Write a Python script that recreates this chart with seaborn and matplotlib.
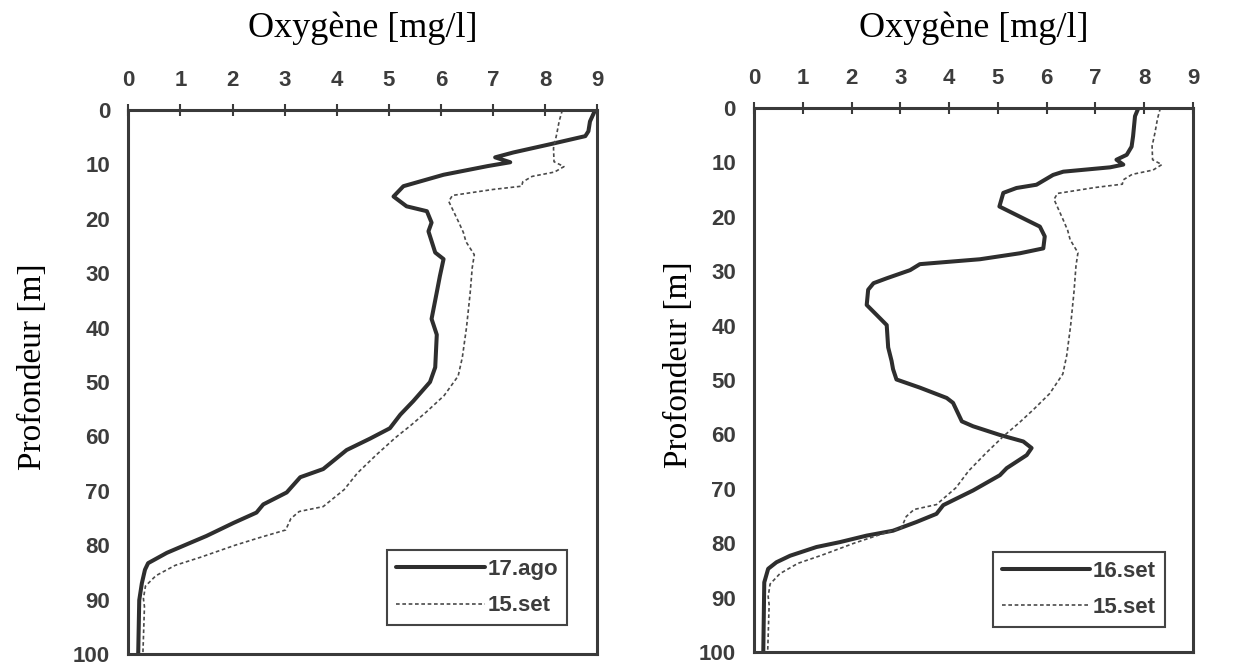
import matplotlib
matplotlib.use("Agg")
import matplotlib.pyplot as plt
import seaborn as sns
import pandas as pd

# ---------------- data ----------------
xticks_vals = [0, 1, 2, 3, 4, 5, 6, 7, 8, 9]
yticks_vals = [0, 10, 20, 30, 40, 50, 60, 70, 80, 90, 100]
title_text = "Oxygène [mg/l]"
ylabel_text = "Profondeur [m]"

depth_17ago = [0, 2.1, 3.9, 4.8, 6.3, 7.8, 8.7, 9.6, 10.3, 11.9, 14, 15.9, 17.7, 18.6,
               20.7, 22.3, 24.1, 26.2, 27.4, 30.5, 33.5, 38.4, 41.3, 47.3, 50, 53.5,
               56, 58.5, 60.4, 62.5, 66, 67.5, 70.3, 72.5, 74, 75.9, 78.3, 79.6, 81.4,
               83.3, 84.5, 87, 90.1, 100]
oxy_17ago = [8.96, 8.86, 8.83, 8.77, 8.09, 7.39, 7.04, 7.33, 6.9, 6.05, 5.28, 5.09, 5.34,
             5.73, 5.82, 5.76, 5.82, 5.89, 6.05, 5.98, 5.92, 5.82, 5.92, 5.89, 5.79, 5.47,
             5.22, 5.02, 4.64, 4.19, 3.74, 3.30, 3.04, 2.59, 2.46, 2.02, 1.50, 1.18, 0.74,
             0.38, 0.32, 0.26, 0.21, 0.19]

depth_15set = [0, 2, 4.5, 7, 9.5, 10.4, 11.4, 12.2, 13.2, 14.0, 14.6, 15.7, 16.8, 20.6,
               22.5, 24.2, 26.6, 29, 33.7, 40, 45.5, 48.9, 52.5, 55.5, 57.9, 60.2, 63.3,
               66.7, 69.8, 71.5, 72.9, 73.8, 75.1, 77.2, 78.6, 80, 82.2, 83.7, 85.6, 87.5,
               89.8, 91.3, 100]
oxy_15set = [8.33, 8.27, 8.22, 8.16, 8.17, 8.36, 8.18, 7.75, 7.57, 7.55, 7.0, 6.22, 6.15,
             6.34, 6.43, 6.48, 6.64, 6.6, 6.56, 6.49, 6.41, 6.33, 6.06, 5.72, 5.43, 5.13,
             4.77, 4.4, 4.14, 3.92, 3.74, 3.28, 3.12, 3.02, 2.52, 2.05, 1.39, 0.9, 0.53,
             0.33, 0.29, 0.31, 0.28]

depth_16set = [0, 1.5, 5.2, 7.1, 8.6, 9.5, 10.4, 10.9, 11.7, 12.3, 14.1, 14.7, 15.6, 18.1,
               20.6, 21.8, 23.6, 25.8, 26.7, 27.8, 28.7, 29.8, 31.3, 32.2, 33.4, 36.2, 38,
               39.9, 44, 46.5, 48, 49.9, 51.4, 53.3, 54.2, 57.6, 58.5, 60.1, 61.3, 62.5,
               63.8, 66.2, 67.5, 70.3, 71.8, 73, 74.6, 76.1, 77.7, 78.6, 79.8, 80.7, 82.3,
               83.5, 84.7, 87.2, 100]
oxy_16set = [7.88, 7.81, 7.77, 7.74, 7.64, 7.43, 7.57, 7.3, 6.34, 6.13, 5.79, 5.38, 5.11,
             5.03, 5.59, 5.86, 5.96, 5.93, 5.45, 4.63, 3.40, 3.20, 2.72, 2.45, 2.34, 2.31,
             2.51, 2.72, 2.75, 2.82, 2.85, 2.92, 3.40, 3.95, 4.08, 4.26, 4.49, 5.04, 5.52,
             5.69, 5.59, 5.18, 5.04, 4.49, 4.15, 3.88, 3.74, 3.33, 2.85, 2.31, 1.76, 1.28,
             0.74, 0.46, 0.29, 0.21, 0.19]

panels = [
    {"solid": ("17.ago", oxy_17ago, depth_17ago), "dotted": ("15.set", oxy_15set, depth_15set)},
    {"solid": ("16.set", oxy_16set, depth_16set), "dotted": ("15.set", oxy_15set, depth_15set)},
]

# ---------------- style ----------------
sns.set_style("white")
plt.rcParams["font.family"] = ["Liberation Sans", "DejaVu Sans"]

AX_COLOR = "#3a3a3a"
TICK_COLOR = "#3c3c3c"
SERIF = ["Liberation Serif", "DejaVu Serif"]
TICK_SIZE = 16

fig = plt.figure(figsize=(12.42, 6.66), dpi=100)
axes_rects = [[0.1033, 0.018, 0.3776, 0.8168], [0.6071, 0.021, 0.3535, 0.8168]]
ylabel_x = [-0.172, -0.136]
legend_anchor = [(0.936, 0.053), (0.936, 0.046)]

for i, (rect, pnl) in enumerate(zip(axes_rects, panels)):
    ax = fig.add_axes(rect)
    lab_s, xs, ys = pnl["solid"]
    lab_d, xd, yd = pnl["dotted"]
    df_s = pd.DataFrame({"oxy": xs, "depth": ys})
    df_d = pd.DataFrame({"oxy": xd, "depth": yd})
    sns.lineplot(data=df_s, x="oxy", y="depth", orient="y", sort=False, estimator=None,
                 color="#2e2e2e", linewidth=2.9, label=lab_s, ax=ax)
    sns.lineplot(data=df_d, x="oxy", y="depth", orient="y", sort=False, estimator=None,
                 color="#4a4a4a", linewidth=1.2, linestyle=(0, (2.2, 1.6)), label=lab_d, ax=ax)

    ax.set_xlim(0, 9)
    ax.set_ylim(100, 0)
    ax.set_xticks(xticks_vals)
    ax.set_yticks(yticks_vals)
    ax.xaxis.tick_top()
    ax.xaxis.set_label_position("top")
    ax.tick_params(axis="both", which="major", direction="inout", length=8, width=1.5,
                   color=AX_COLOR, labelsize=TICK_SIZE, labelcolor=TICK_COLOR)
    ax.tick_params(axis="x", pad=10)
    ax.tick_params(axis="y", pad=9)
    for lbl in ax.get_xticklabels() + ax.get_yticklabels():
        lbl.set_fontweight("bold")
    for sp in ax.spines.values():
        sp.set_visible(True)
        sp.set_color(AX_COLOR)
        sp.set_linewidth(2.2)

    ax.set_xlabel(title_text, fontsize=26, family=SERIF, color="black")
    ax.xaxis.set_label_coords(0.5, 1.134 if i == 0 else 1.131)
    ax.set_ylabel(ylabel_text, fontsize=24, family=SERIF, color="black")
    ax.yaxis.set_label_coords(ylabel_x[i], 0.528)

    leg = ax.legend(loc="lower right", bbox_to_anchor=legend_anchor[i], frameon=True,
                    fancybox=False, edgecolor="#444444", framealpha=1,
                    prop={"size": TICK_SIZE, "weight": "bold"}, handlelength=4.0,
                    handletextpad=0.12, borderpad=0.4, labelspacing=0.7,
                    borderaxespad=0)
    leg.get_frame().set_linewidth(1.5)
    for t in leg.get_texts():
        t.set_color(TICK_COLOR)

fig.savefig("out.png", dpi=100)
